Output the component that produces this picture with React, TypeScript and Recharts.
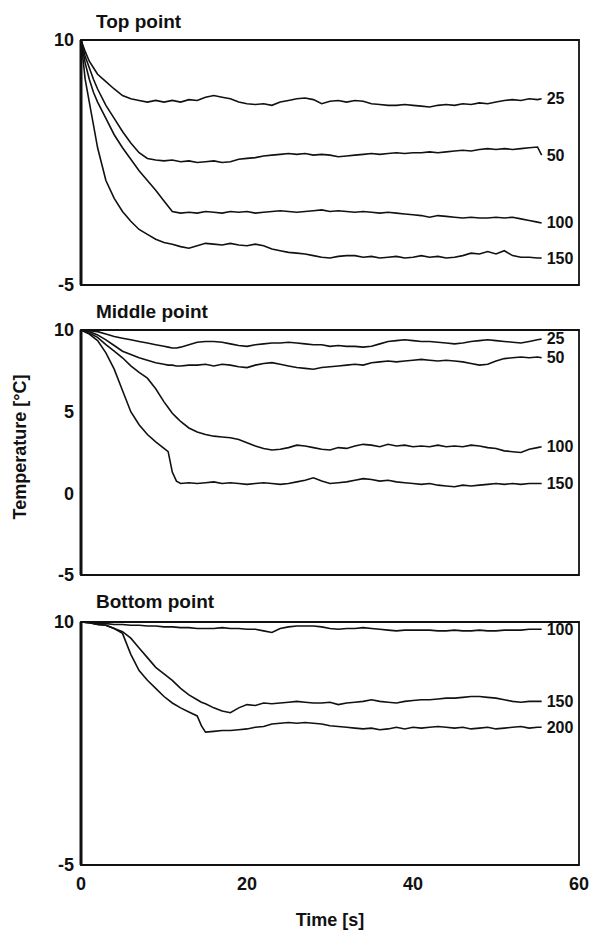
import { LineChart, Line, XAxis, YAxis, ReferenceArea, LabelList } from "recharts";

const FONT = '"Liberation Sans", Arial, Helvetica, sans-serif';
const INK = "#111";

// time grids (s)
const topTime = [0, 0.5, 1, 1.5, 2, 3, 4, 5, 6, 7, 8, 9, 10, 11, 12, 13, 14, 15, 16, 17, 18, 19, 20, 21, 22, 23, 24, 25, 26, 27, 28, 29, 30, 31, 32, 33, 34, 35, 36, 37, 38, 39, 40, 41, 42, 43, 44, 45, 46, 47, 48, 49, 50, 51, 52, 53, 54, 55, 55.5];
const midTime = [0, 1, 2, 3, 4, 5, 6, 7, 8, 9, 10, 10.5, 11, 11.5, 12, 13, 14, 15, 16, 17, 18, 19, 20, 21, 22, 23, 24, 25, 26, 27, 28, 29, 30, 31, 32, 33, 34, 35, 36, 37, 38, 39, 40, 41, 42, 43, 44, 45, 46, 47, 48, 49, 50, 51, 52, 53, 54, 55, 55.5];
const botTime = [0, 1, 2, 3, 4, 5, 6, 7, 8, 9, 10, 11, 12, 13, 14, 14.5, 15, 16, 17, 18, 19, 20, 21, 22, 23, 24, 25, 26, 27, 28, 29, 30, 31, 32, 33, 34, 35, 36, 37, 38, 39, 40, 41, 42, 43, 44, 45, 46, 47, 48, 49, 50, 51, 52, 53, 54, 55, 55.5];

// Top point
const top25 = [10, 9.3, 8.7, 8.3, 7.9, 7.45, 7.0, 6.6, 6.4, 6.3, 6.2, 6.3, 6.2, 6.3, 6.2, 6.35, 6.3, 6.5, 6.6, 6.5, 6.4, 6.2, 6.1, 6.05, 6.1, 6.0, 6.2, 6.3, 6.4, 6.45, 6.35, 6.1, 6.25, 6.3, 6.2, 6.3, 6.25, 6.1, 6.05, 6.0, 6.0, 6.05, 6.0, 5.95, 5.9, 6.0, 6.05, 6.0, 6.1, 6.05, 6.15, 6.1, 6.2, 6.3, 6.35, 6.3, 6.4, 6.35, 6.4];
const top50 = [10, 9.0, 8.3, 7.6, 7.0, 6.0, 5.2, 4.4, 3.7, 3.1, 2.75, 2.65, 2.6, 2.65, 2.55, 2.6, 2.5, 2.55, 2.6, 2.5, 2.55, 2.7, 2.75, 2.8, 2.9, 2.95, 3.0, 3.05, 3.0, 3.05, 2.95, 3.0, 2.95, 2.85, 2.9, 2.95, 3.0, 3.05, 3.0, 3.05, 3.1, 3.05, 3.1, 3.1, 3.15, 3.1, 3.15, 3.2, 3.25, 3.2, 3.3, 3.35, 3.3, 3.35, 3.3, 3.35, 3.4, 3.45, 2.95];
const top100 = [10, 8.6, 7.6, 6.8, 6.2, 5.2, 4.2, 3.4, 2.7, 2.0, 1.4, 0.8, 0.15, -0.5, -0.6, -0.55, -0.6, -0.5, -0.55, -0.6, -0.5, -0.55, -0.5, -0.6, -0.55, -0.5, -0.45, -0.5, -0.55, -0.5, -0.45, -0.4, -0.5, -0.45, -0.5, -0.55, -0.5, -0.55, -0.6, -0.55, -0.6, -0.65, -0.7, -0.75, -0.85, -0.75, -0.8, -0.85, -0.9, -0.85, -0.9, -0.9, -0.85, -0.9, -0.85, -0.95, -1.05, -1.15, -1.2];
const top150 = [10, 7.6, 6.2, 4.8, 3.4, 1.4, 0.3, -0.5, -1.1, -1.6, -1.9, -2.2, -2.4, -2.5, -2.65, -2.75, -2.6, -2.45, -2.5, -2.55, -2.45, -2.55, -2.6, -2.5, -2.6, -2.8, -2.9, -3.0, -3.05, -3.1, -3.2, -3.3, -3.35, -3.25, -3.2, -3.2, -3.3, -3.25, -3.35, -3.3, -3.25, -3.35, -3.3, -3.2, -3.3, -3.25, -3.35, -3.3, -3.2, -3.05, -3.1, -2.95, -3.1, -2.9, -3.2, -3.3, -3.3, -3.35, -3.35];

// Middle point
const mid25 = [10, 9.95, 9.9, 9.75, 9.6, 9.5, 9.4, 9.3, 9.2, 9.1, 9.0, 8.95, 8.9, 8.9, 8.95, 9.1, 9.25, 9.3, 9.3, 9.25, 9.15, 9.05, 9.0, 9.1, 9.15, 9.2, 9.2, 9.25, 9.2, 9.15, 9.1, 9.1, 9.0, 9.05, 9.0, 9.0, 8.95, 9.0, 9.15, 9.3, 9.35, 9.4, 9.35, 9.3, 9.3, 9.25, 9.2, 9.15, 9.2, 9.3, 9.35, 9.4, 9.35, 9.3, 9.25, 9.2, 9.3, 9.4, 9.45];
const mid50 = [10, 9.9, 9.7, 9.4, 9.05, 8.7, 8.5, 8.3, 8.15, 8.0, 7.9, 7.85, 7.85, 7.8, 7.8, 7.85, 7.85, 7.9, 7.8, 7.9, 7.85, 7.75, 7.7, 7.85, 7.95, 8.0, 7.9, 7.8, 7.7, 7.65, 7.6, 7.7, 7.75, 7.8, 7.85, 7.9, 7.85, 8.0, 8.05, 8.1, 8.05, 8.1, 8.15, 8.2, 8.15, 8.1, 8.15, 8.1, 8.05, 7.95, 7.85, 7.9, 8.1, 8.25, 8.3, 8.35, 8.3, 8.35, 8.3];
const mid100 = [10, 9.8, 9.55, 9.1, 8.7, 8.3, 7.8, 7.4, 7.05, 6.4, 5.6, 5.25, 4.9, 4.65, 4.4, 4.0, 3.75, 3.6, 3.5, 3.45, 3.4, 3.3, 3.1, 2.9, 2.75, 2.65, 2.7, 2.8, 2.95, 2.9, 2.8, 2.7, 2.65, 2.8, 2.75, 2.9, 3.0, 2.95, 2.85, 3.0, 2.9, 2.95, 2.85, 2.9, 2.85, 2.95, 2.85, 2.9, 2.85, 2.95, 2.9, 2.8, 2.75, 2.6, 2.55, 2.5, 2.7, 2.8, 2.85];
const mid150 = [10, 9.75, 9.35, 8.6, 7.6, 6.3, 5.0, 4.2, 3.6, 3.15, 2.75, 2.55, 1.3, 0.75, 0.6, 0.65, 0.6, 0.65, 0.7, 0.6, 0.65, 0.6, 0.55, 0.6, 0.65, 0.6, 0.55, 0.6, 0.7, 0.8, 0.95, 0.75, 0.6, 0.65, 0.7, 0.8, 0.9, 0.85, 0.75, 0.8, 0.7, 0.65, 0.6, 0.55, 0.6, 0.5, 0.45, 0.4, 0.5, 0.45, 0.5, 0.55, 0.6, 0.55, 0.6, 0.55, 0.6, 0.6, 0.6];

// Bottom point
const bot100 = [10, 9.95, 9.9, 9.9, 9.85, 9.85, 9.8, 9.8, 9.75, 9.75, 9.7, 9.7, 9.65, 9.65, 9.6, 9.6, 9.6, 9.6, 9.65, 9.6, 9.6, 9.55, 9.55, 9.45, 9.35, 9.6, 9.7, 9.75, 9.75, 9.75, 9.7, 9.6, 9.55, 9.6, 9.6, 9.65, 9.6, 9.55, 9.5, 9.45, 9.5, 9.5, 9.5, 9.5, 9.45, 9.45, 9.5, 9.45, 9.45, 9.5, 9.45, 9.45, 9.5, 9.5, 9.5, 9.55, 9.55, 9.55];
const bot150 = [10, 9.95, 9.85, 9.8, 9.6, 9.4, 9.0, 8.4, 7.8, 7.2, 6.8, 6.4, 5.9, 5.5, 5.2, 5.05, 4.95, 4.7, 4.5, 4.4, 4.7, 4.9, 4.85, 5.0, 4.95, 5.0, 5.05, 5.1, 5.05, 5.0, 5.0, 5.05, 4.9, 5.0, 5.05, 5.1, 5.2, 5.1, 5.05, 5.0, 5.1, 5.15, 5.2, 5.2, 5.25, 5.3, 5.3, 5.35, 5.4, 5.4, 5.35, 5.3, 5.2, 5.1, 5.05, 5.1, 5.1, 5.1];
const bot200 = [10, 9.95, 9.85, 9.8, 9.6, 9.3, 8.0, 7.0, 6.4, 5.9, 5.4, 5.0, 4.7, 4.45, 4.2, 3.6, 3.2, 3.25, 3.3, 3.3, 3.35, 3.4, 3.5, 3.55, 3.7, 3.75, 3.8, 3.75, 3.8, 3.75, 3.7, 3.6, 3.55, 3.5, 3.45, 3.4, 3.45, 3.35, 3.4, 3.5, 3.4, 3.5, 3.45, 3.5, 3.55, 3.5, 3.45, 3.5, 3.4, 3.45, 3.5, 3.4, 3.45, 3.5, 3.55, 3.45, 3.5, 3.5];

const xTicks = [0, 20, 40, 60];
const yTicksEnds = [-5, 10];
const yTicksMid = [-5, 0, 5, 10];

const tickStyle = { fill: INK, fontSize: 18, fontWeight: 700, fontFamily: FONT };

const EndLabel = ({ name, last }: { name: string; last: number }) => (props: any) => {
  if (props.index !== last) return null;
  const x = props.x ?? props.viewBox?.x;
  const y = props.y ?? props.viewBox?.y;
  return (
    <text x={x + 5} y={y} dominantBaseline="central" fill={INK} fontSize={16} fontWeight={700} fontFamily={FONT}>
      {name}
    </text>
  );
};

const YTitle = () => (
  <text
    x={20}
    y={157}
    transform="rotate(-90 20 157)"
    textAnchor="middle"
    dominantBaseline="central"
    fill={INK}
    fontSize={18}
    fontWeight={700}
    fontFamily={FONT}
  >
    Temperature [°C]
  </text>
);

const XTitle = () => (
  <text x={330} y={340} textAnchor="middle" dominantBaseline="central" fill={INK} fontSize={18} fontWeight={700} fontFamily={FONT}>
    Time [s]
  </text>
);

type PanelProps = {
  title: string;
  time: number[];
  series: number[][];
  names: string[];
  yTicks: number[];
  top: number;
  height: number;
  marginTop: number;
  marginBottom: number;
  bottomAxis?: boolean;
  yTitle?: boolean;
};

const Panel = ({ title, time, series, names, yTicks, top, height, marginTop, marginBottom, bottomAxis, yTitle }: PanelProps) => {
  const data = time.map((t, i) => {
    const row: any = { t };
    series.forEach((s, k) => (row["s" + k] = s[i]));
    return row;
  });
  const last = time.length - 1;
  return (
    <div style={{ position: "absolute", left: 0, top, width: 590, height }}>
      <div
        style={{
          position: "absolute",
          left: 96,
          top: 11,
          lineHeight: "22px",
          fontFamily: FONT,
          fontWeight: 700,
          fontSize: 19,
          color: INK,
        }}
      >
        {title}
      </div>
      <LineChart width={590} height={height} data={data} margin={{ top: marginTop, right: 11, bottom: marginBottom, left: 0 }}>
        <XAxis
          type="number"
          dataKey="t"
          domain={[0, 60]}
          ticks={xTicks}
          hide={!bottomAxis}
          axisLine={false}
          tickLine={false}
          tickSize={0}
          tickMargin={12}
          height={45}
          tick={tickStyle}
          label={bottomAxis ? XTitle : undefined}
        />
        <YAxis
          type="number"
          domain={[-5, 10]}
          ticks={yTicks}
          interval={0}
          width={81}
          tickSize={0}
          tickMargin={7}
          tickLine={false}
          axisLine={{ stroke: INK, strokeWidth: 3 }}
          tick={tickStyle}
          label={yTitle ? YTitle : undefined}
        />
        <ReferenceArea x1={0} x2={60} y1={-5} y2={10} fill="none" fillOpacity={0} stroke={INK} strokeWidth={1.8} />
        {series.map((s, k) => (
          <Line
            key={names[k]}
            dataKey={"s" + k}
            type="linear"
            stroke={INK}
            strokeWidth={1.6}
            dot={false}
            isAnimationActive={false}
          >
            <LabelList content={EndLabel({ name: names[k], last })} />
          </Line>
        ))}
      </LineChart>
    </div>
  );
};

export default function App() {
  return (
    <div style={{ position: "absolute", left: 0, top: 0, width: 590, height: 937, background: "#fff" }}>
      <Panel
        title="Top point"
        time={topTime}
        series={[top25, top50, top100, top150]}
        names={["25", "50", "100", "150"]}
        yTicks={yTicksEnds}
        top={0}
        height={300}
        marginTop={40}
        marginBottom={15}
      />
      <Panel
        title="Middle point"
        time={midTime}
        series={[mid25, mid50, mid100, mid150]}
        names={["25", "50", "100", "150"]}
        yTicks={yTicksMid}
        top={290}
        height={300}
        marginTop={40}
        marginBottom={15}
        yTitle
      />
      <Panel
        title="Bottom point"
        time={botTime}
        series={[bot100, bot150, bot200]}
        names={["100", "150", "200"]}
        yTicks={yTicksEnds}
        top={580}
        height={357}
        marginTop={42}
        marginBottom={27}
        bottomAxis
      />
    </div>
  );
}
